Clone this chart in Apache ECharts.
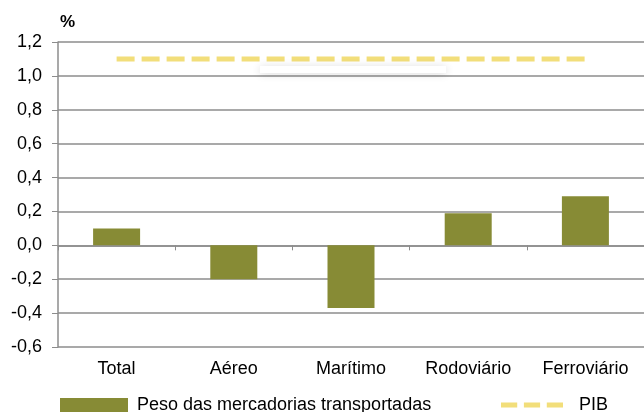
<!DOCTYPE html>
<html><head><meta charset="utf-8">
<script src="https://cdn.jsdelivr.net/npm/echarts@6/dist/echarts.min.js"></script>
<style>html,body{margin:0;padding:0;background:#fff}#c{width:644px;height:412px}</style>
</head><body><div id="c"></div>
<script>
const categories = ['Total', 'Aéreo', 'Marítimo', 'Rodoviário', 'Ferroviário'];
const pesoValues = [0.1, -0.2, -0.37, 0.19, 0.29];
const pibValues = [1.1, 1.1, 1.1, 1.1, 1.1];
const seriesNames = ['Peso das mercadorias transportadas', 'PIB'];
const yTicks = { min: -0.6, max: 1.2, interval: 0.2 };

const chart = echarts.init(document.getElementById('c'), null, { renderer: 'canvas' });
const font = 'Liberation Sans, Arial, sans-serif';
const grey = '#8c8c8c';
const olive = '#878b35';
const yellow = '#f2de7a';
chart.setOption({
  animation: false,
  textStyle: { fontFamily: font },
  grid: { left: 58, right: 0, top: 42, bottom: 65 },
  title: { text: '%', left: 60, top: 14, padding: 0, textStyle: { fontFamily: font, fontSize: 17, fontWeight: 'bold', color: '#000' } },
  graphic: [{
    type: 'rect', shape: { x: 260, y: 66, width: 186, height: 7 },
    style: { fill: '#fff', shadowBlur: 8, shadowColor: 'rgba(0,0,0,0.15)', shadowOffsetY: 1 }, z: 5
  }],
  xAxis: [
    { type: 'category', data: categories, position: 'bottom',
      axisLine: { show: false, onZero: false }, axisTick: { show: false },
      axisLabel: { color: '#000', fontSize: 18, fontFamily: font, margin: 13 } },
    { type: 'category', data: categories, position: 'bottom',
      axisLine: { show: true, onZero: true, lineStyle: { color: grey, width: 1.5 } },
      axisTick: { show: true, length: 5, lineStyle: { color: grey } },
      axisLabel: { show: false } }
  ],
  yAxis: {
    type: 'value', min: yTicks.min, max: yTicks.max, interval: yTicks.interval,
    axisLine: { show: true, lineStyle: { color: grey, width: 1.5 } },
    axisTick: { show: true, length: 6, lineStyle: { color: grey } },
    splitLine: { lineStyle: { color: grey, width: 1.5 } },
    axisLabel: { color: '#000', fontSize: 18, fontFamily: font, margin: 16,
      formatter: v => v.toFixed(1).replace('.', ',') }
  },
  legend: [
    { data: [{ name: seriesNames[0], icon: 'rect' }], left: 60, top: 396, padding: 0,
      itemWidth: 68, itemHeight: 14, itemGap: 0,
      textStyle: { fontSize: 18, color: '#000', fontFamily: font, padding: [0, 0, 6, 4] } },
    { data: [{ name: seriesNames[1], icon: 'path://M0,0h17v5h-17zM24,0h17v5h-17zM48,0h17v5h-17z' }],
      left: 501, top: 396, padding: 0, itemWidth: 62, itemHeight: 5,
      textStyle: { fontSize: 18, color: '#000', fontFamily: font, padding: [0, 0, 0, 11] } }
  ],
  series: [
    { name: seriesNames[0], type: 'bar', data: pesoValues, barWidth: 47,
      itemStyle: { color: olive } },
    { name: seriesNames[1], type: 'line', data: pibValues, symbol: 'none',
      lineStyle: { color: yellow, width: 5, type: [18, 7] }, itemStyle: { color: yellow }, z: 4 }
  ]
});
</script></body></html>
